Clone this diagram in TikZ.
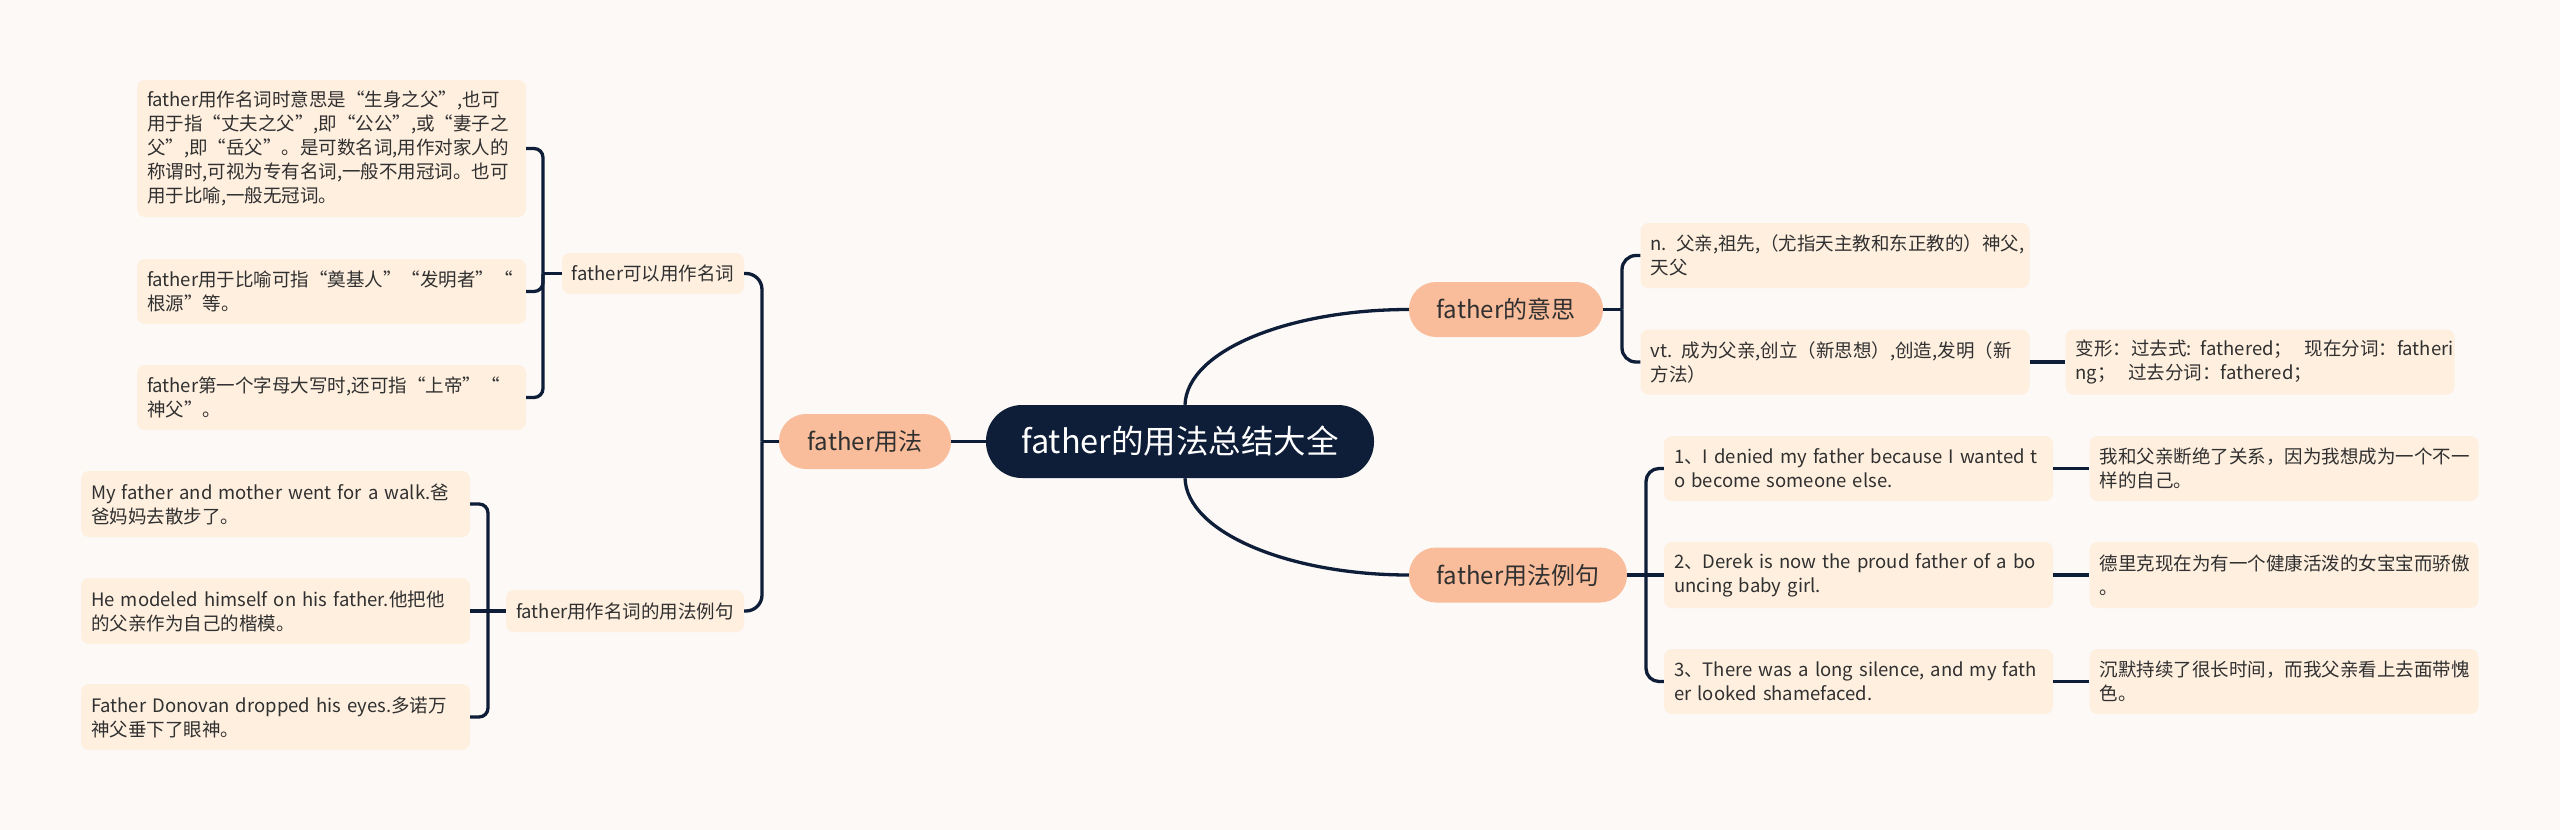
\documentclass[tikz,border=0pt]{standalone}
\usepackage{fontspec}
\setmainfont{Noto Sans CJK SC}
\definecolor{bgc}{HTML}{FDF9F7}
\definecolor{boxc}{HTML}{FEEFDF}
\definecolor{salm}{HTML}{F9BD9B}
\definecolor{navy}{HTML}{0E1E38}
\definecolor{textc}{HTML}{303030}
\begin{document}
\begin{tikzpicture}[x=1pt,y=-1pt,
  txt/.style={fill=boxc, rounded corners=8pt, text width=369pt, inner xsep=10pt, inner ysep=0pt,
    align=left, font=\fontsize{18.5}{24}\selectfont, text=textc},
  nb/.style={fill=boxc, rounded corners=8pt, inner xsep=8pt, inner ysep=0pt, minimum height=41pt,
    font=\fontsize{18.5}{24}\selectfont, text=textc},
  mainb/.style={fill=salm, rounded corners=27pt, inner xsep=10pt, inner ysep=0pt, minimum height=55pt,
    font=\fontsize{24}{28}\selectfont, text=textc},
  rootb/.style={fill=navy, rounded corners=36pt, inner xsep=10pt, inner ysep=0pt, minimum height=73pt,
    minimum width=388pt, font=\fontsize{32.5}{38}\selectfont, text=white},
  conn/.style={draw=navy, line width=3.3pt}]
\fill[bgc] (0,0) rectangle (2560,830);
\useasboundingbox (0,0) rectangle (2560,830);

% root and main branches
\node[rootb] (C) at (1180,441.5) {father的用法总结大全};
\node[mainb, minimum width=172pt] (L1) at (865,441.5) {father用法};
\node[mainb, minimum width=194pt] (RA) at (1506,309.5) {father的意思};
\node[mainb, minimum width=218pt] (RB) at (1518,575) {father用法例句};

% left sub branches
\node[nb, minimum width=182pt] (N1) at (653,273.5) {father可以用作名词};
\node[nb, minimum width=238pt, minimum height=42pt] (N2) at (625,611) {father用作名词的用法例句};

\node[txt, minimum height=137pt] (A1) at (331.5,148.5) {father用作名词时意思是“生身之父”,也可\\用于指“丈夫之父”,即“公公”,或“妻子之\\父”,即“岳父”。是可数名词,用作对家人的\\称谓时,可视为专有名词,一般不用冠词。也可\\用于比喻,一般无冠词。};
\node[txt, minimum height=65pt] (A2) at (331.5,291.5) {father用于比喻可指“奠基人”“发明者”“\\根源”等。};
\node[txt, minimum height=65pt] (A3) at (331.5,397.5) {father第一个字母大写时,还可指“上帝”“\\神父”。};

\node[txt, minimum height=66pt] (B1) at (275.5,504) {\mbox{My father and mother went for a walk.爸}\\爸妈妈去散步了。};
\node[txt, minimum height=66pt] (B2) at (275.5,611) {\mbox{He modeled himself on his father.他把他}\\的父亲作为自己的楷模。};
\node[txt, minimum height=66pt] (B3) at (275.5,717) {\mbox{Father Donovan dropped his eyes.多诺万}\\神父垂下了眼神。};

% right sub branches
\node[txt, minimum height=65pt] (R1) at (1835,255.5) {n. 父亲,祖先,（尤指天主教和东正教的）神父,\\天父};
\node[txt, minimum height=65pt] (R2) at (1835,362) {vt. 成为父亲,创立（新思想）,创造,发明（新\\方法）};
\node[txt, minimum height=65pt] (R3) at (2260,362) {\mbox{变形：过去式: fathered；\ \ 现在分词：fatheri}\\\mbox{ng；\ \ 过去分词：fathered；}};

\node[txt, minimum height=65pt] (E1) at (1858.5,468.5) {\mbox{1、I denied my father because I wanted t}\\\mbox{o become someone else.}};
\node[txt, minimum height=66pt] (E2) at (1858.5,575) {\mbox{2、Derek is now the proud father of a bo}\\\mbox{uncing baby girl.}};
\node[txt, minimum height=65pt] (E3) at (1858.5,681.5) {\mbox{3、There was a long silence, and my fath}\\\mbox{er looked shamefaced.}};

\node[txt, minimum height=65pt] (T1) at (2284,468.5) {我和父亲断绝了关系，因为我想成为一个不一\\样的自己。};
\node[txt, minimum height=66pt] (T2) at (2284,575) {德里克现在为有一个健康活泼的女宝宝而骄傲\\。};
\node[txt, minimum height=65pt] (T3) at (2284,681.5) {沉默持续了很长时间，而我父亲看上去面带愧\\色。};

% connectors: root
\draw[conn] (L1.east) -- (C.west);
\draw[conn] ([xshift=5pt]C.north) .. controls (1187,350) and (1290,309.5) .. (RA.west);
\draw[conn] ([xshift=5pt]C.south) .. controls (1187,533) and (1290,575) .. (RB.west);

% left
\coordinate (JL) at (762,441.5);
\draw[conn] (L1.west) -- (JL);
\draw[conn, rounded corners=16pt] (JL) |- (N1.east);
\draw[conn, rounded corners=16pt] (JL) |- (N2.east);

\coordinate (JA) at (543,273.5);
\draw[conn] (N1.west) -- (JA);
\draw[conn, rounded corners=9pt] (JA) |- (A1.east);
\draw[conn, rounded corners=9pt] (JA) |- (A2.east);
\draw[conn, rounded corners=9pt] (JA) |- (A3.east);

\coordinate (JB) at (488,611);
\draw[conn] (N2.west) -- (JB);
\draw[conn, rounded corners=9pt] (JB) |- (B1.east);
\draw[conn] (JB) -- (B2.east);
\draw[conn, rounded corners=9pt] (JB) |- (B3.east);

% right
\coordinate (JR) at (1622,309.5);
\draw[conn] (RA.east) -- (JR);
\draw[conn, rounded corners=14pt] (JR) |- (R1.west);
\draw[conn, rounded corners=14pt] (JR) |- (R2.west);
\draw[conn] (R2.east) -- (R3.west);

\coordinate (JE) at (1646,575);
\draw[conn] (RB.east) -- (JE);
\draw[conn, rounded corners=13pt] (JE) |- (E1.west);
\draw[conn] (JE) -- (E2.west);
\draw[conn, rounded corners=13pt] (JE) |- (E3.west);
\draw[conn] (E1.east) -- (T1.west);
\draw[conn] (E2.east) -- (T2.west);
\draw[conn] (E3.east) -- (T3.west);
\end{tikzpicture}
\end{document}
